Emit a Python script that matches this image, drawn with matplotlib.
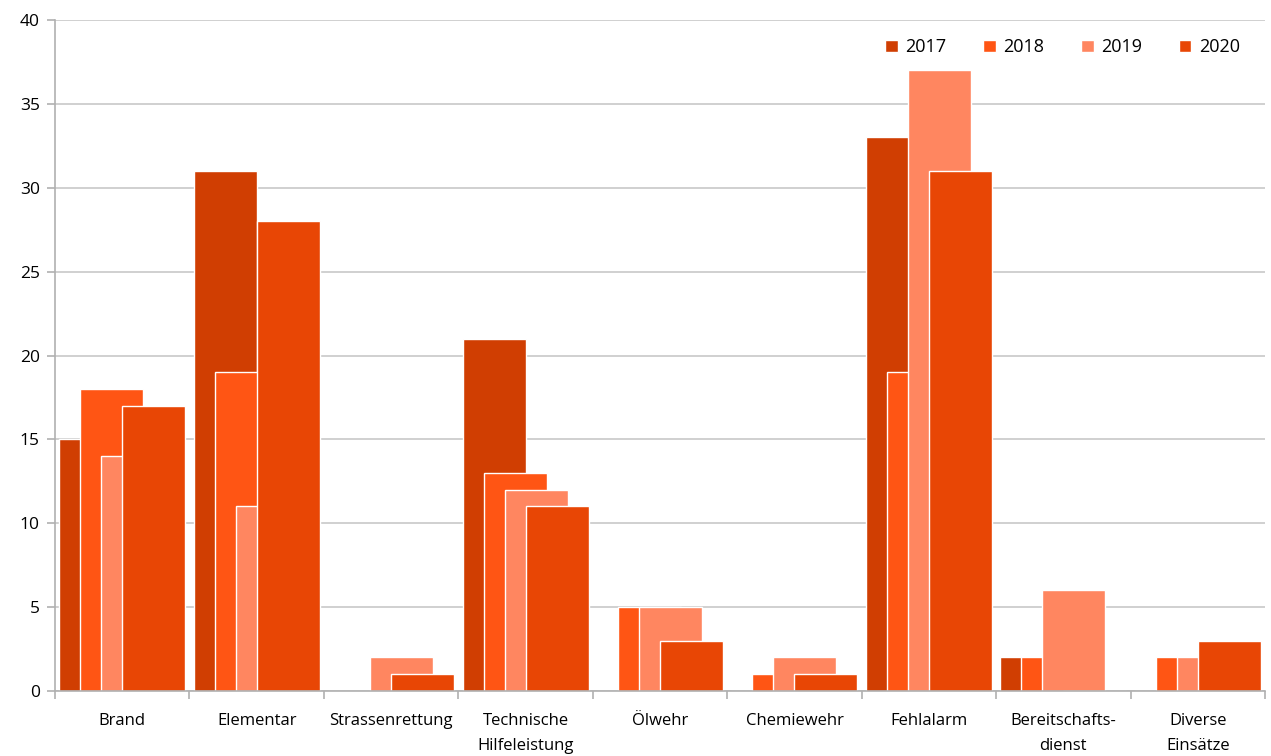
import matplotlib
matplotlib.use("Agg")
import matplotlib.pyplot as plt
import numpy as np

categories = ["Brand", "Elementar", "Strassenrettung", "Technische\nHilfeleistung",
              "Ölwehr", "Chemiewehr", "Fehlalarm", "Bereitschafts-\ndienst", "Diverse\nEinsätze"]
years = ["2017", "2018", "2019", "2020"]
v2017 = [15, 31, 0, 21, 0, 0, 33, 2, 0]
v2018 = [18, 19, 0, 13, 5, 1, 19, 2, 2]
v2019 = [14, 11, 2, 12, 5, 2, 37, 6, 2]
v2020 = [17, 28, 1, 11, 3, 1, 31, 0, 3]
series = [v2017, v2018, v2019, v2020]
colors = ["#D03E02", "#FF5514", "#FF8660", "#E84605"]

plt.rcParams['font.family'] = ['Open Sans', 'DejaVu Sans']

fig = plt.figure(figsize=(12.71, 7.56), dpi=100)
ax = fig.add_axes([0.0433, 0.086, 0.952, 0.8875])

x = np.arange(len(categories))
width = 0.469
step = 0.156
for i, (vals, col, yr) in enumerate(zip(series, colors, years)):
    ax.bar(x + (i - 1.5) * step, vals, width=width, color=col, edgecolor="white",
           linewidth=1.0, label=yr, zorder=2 + i)

ax.set_xlim(-0.5, len(categories) - 0.5)
ax.set_ylim(0, 40)
ax.set_yticks(range(0, 41, 5))
ax.yaxis.grid(True, color="#C8C8C8", linewidth=1.2, zorder=0)
ax.set_axisbelow(True)

ax.set_xticks(x)
ax.set_xticklabels(categories, fontsize=12, linespacing=1.75)
ax.tick_params(axis="x", which="major", length=0, pad=16)
ax.set_xticks(np.arange(-0.5, len(categories), 1.0), minor=True)
ax.tick_params(axis="x", which="minor", length=6, color="#B0B0B0", width=1.2)
ax.tick_params(axis="y", length=6, color="#B0B0B0", width=1.2, labelsize=12.5, pad=5)

for s in ["top", "right"]:
    ax.spines[s].set_visible(False)
for s in ["left", "bottom"]:
    ax.spines[s].set_color("#B0B0B0")
    ax.spines[s].set_linewidth(1.2)
    ax.spines[s].set_zorder(10)

ax.legend(loc="upper right", bbox_to_anchor=(0.9925, 0.997), ncol=4, frameon=False,
          fontsize=13, handlelength=0.7, handleheight=0.7, handletextpad=0.4,
          columnspacing=2.05)

fig.savefig("out.png", dpi=100)
